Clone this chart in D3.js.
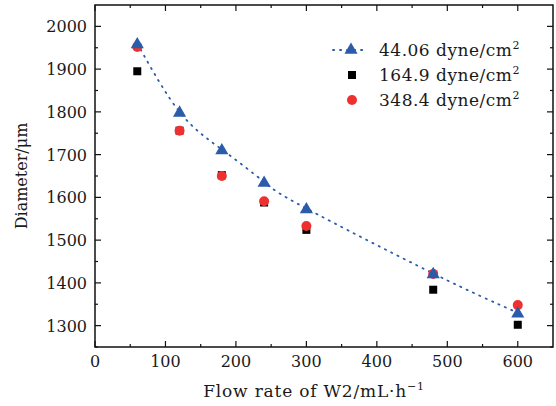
<!DOCTYPE html>
<html>
<head>
<meta charset="utf-8">
<script src="https://cdn.jsdelivr.net/npm/d3@7"></script>
<style>
  body { margin: 0; background: #fff; }
  text { font-family: "DejaVu Serif", serif; fill: #1a1a1a; }
</style>
</head>
<body>
<div id="chart"></div>
<script>
const flowRates = [60, 120, 180, 240, 300, 480, 600];
const d44 = [1960, 1800, 1712, 1636, 1574, 1422, 1330];
const d164 = [1895, 1756, 1652, 1588, 1524, 1384, 1302];
const d348 = [1952, 1756, 1650, 1591, 1533, 1421, 1348];
const xTicks = [0, 100, 200, 300, 400, 500, 600];
const yTicks = [1300, 1400, 1500, 1600, 1700, 1800, 1900, 2000];

const W = 556, H = 406;
const m = { left: 95, right: 3, top: 5, bottom: 59 };
const BLUE = "#2a5caa", RED = "#ee3030";

const svg = d3.select("#chart").append("svg")
	.attr("width", W).attr("height", H);

const x = d3.scaleLinear().domain([0, 650]).range([m.left, W - m.right]);
const y = d3.scaleLinear().domain([1250, 2050]).range([H - m.bottom, m.top]);

// ticks on all four sides, pointing inward
const minorX = d3.range(50, 650, 100);
const minorY = d3.range(1250, 2050, 100);
function ticks(axis, scale, major, minor) {
	const g = svg.append("g");
	const tk = (v, len) => {
		const p = scale(v);
		if (axis === "x") {
			g.append("line").attr("x1", p).attr("x2", p).attr("y1", y.range()[0]).attr("y2", y.range()[0] - len);
			g.append("line").attr("x1", p).attr("x2", p).attr("y1", y.range()[1]).attr("y2", y.range()[1] + len);
		} else {
			g.append("line").attr("y1", p).attr("y2", p).attr("x1", x.range()[0]).attr("x2", x.range()[0] + len);
			g.append("line").attr("y1", p).attr("y2", p).attr("x1", x.range()[1]).attr("x2", x.range()[1] - len);
		}
	};
	major.forEach((v) => tk(v, 6));
	minor.forEach((v) => tk(v, 3));
	g.selectAll("line").attr("stroke", "#111").attr("stroke-width", 1.2);
}
ticks("x", x, xTicks, minorX);
ticks("y", y, yTicks, minorY);

svg.append("rect")
	.attr("x", x.range()[0]).attr("y", y.range()[1])
	.attr("width", x.range()[1] - x.range()[0])
	.attr("height", y.range()[0] - y.range()[1])
	.attr("fill", "none").attr("stroke", "#111").attr("stroke-width", 1.5);

svg.append("g").selectAll("text").data(xTicks).join("text")
	.attr("x", (d) => x(d)).attr("y", H - m.bottom + 20)
	.attr("text-anchor", "middle").attr("font-size", 16)
	.text((d) => d);

svg.append("g").selectAll("text").data(yTicks).join("text")
	.attr("x", m.left - 8).attr("y", (d) => y(d) + 6)
	.attr("text-anchor", "end").attr("font-size", 16)
	.text((d) => d);

// axis titles
const xt = svg.append("text")
	.attr("x", 314).attr("y", 397)
	.attr("text-anchor", "middle").attr("font-size", 17)
	.attr("letter-spacing", 0.8);
xt.append("tspan").text("Flow rate of W2/mL·h");
xt.append("tspan").attr("dy", -7).attr("font-size", 11).text("−1");

svg.append("text")
	.attr("transform", `translate(27,${(y.range()[0] + y.range()[1]) / 2}) rotate(-90)`)
	.attr("text-anchor", "middle").attr("font-size", 16)
	.text("Diameter/μm");

const pts = (vals) => flowRates.map((f, i) => [f, vals[i]]);
const tri = d3.symbol().type(d3.symbolTriangle).size(75);

// dotted trend through the 44.06 series
svg.append("path")
	.datum(pts(d44))
	.attr("d", d3.line().x((d) => x(d[0])).y((d) => y(d[1])).curve(d3.curveNatural))
	.attr("fill", "none").attr("stroke", BLUE).attr("stroke-width", 1.8)
	.attr("stroke-dasharray", "1.2 5.8").attr("stroke-linecap", "round");

svg.append("g").selectAll("rect").data(pts(d164)).join("rect")
	.attr("x", (d) => x(d[0]) - 4).attr("y", (d) => y(d[1]) - 4)
	.attr("width", 8).attr("height", 8).attr("fill", "#000");

svg.append("g").selectAll("circle").data(pts(d348)).join("circle")
	.attr("cx", (d) => x(d[0])).attr("cy", (d) => y(d[1]))
	.attr("r", 5).attr("fill", RED);

svg.append("g").selectAll("path").data(pts(d44)).join("path")
	.attr("transform", (d) => `translate(${x(d[0])},${y(d[1]) + 1})`)
	.attr("d", tri).attr("fill", BLUE);

// legend
const legend = [
	{ label: "44.06 dyne/cm", kind: "tri" },
	{ label: "164.9 dyne/cm", kind: "sq" },
	{ label: "348.4 dyne/cm", kind: "circ" },
];
const lg = svg.append("g");
legend.forEach((d, i) => {
	const cy = 50 + i * 25;
	if (d.kind === "tri") {
		lg.append("line").attr("x1", 333).attr("x2", 367).attr("y1", cy).attr("y2", cy)
			.attr("stroke", BLUE).attr("stroke-width", 1.8)
			.attr("stroke-dasharray", "1.2 5.8").attr("stroke-linecap", "round");
		lg.append("path").attr("transform", `translate(351,${cy})`).attr("d", tri).attr("fill", BLUE);
	} else if (d.kind === "sq") {
		lg.append("rect").attr("x", 348).attr("y", cy - 4).attr("width", 8).attr("height", 8).attr("fill", "#000");
	} else {
		lg.append("circle").attr("cx", 352).attr("cy", cy).attr("r", 5).attr("fill", RED);
	}
	const t = lg.append("text").attr("x", 379).attr("y", cy + 6)
		.attr("font-size", 17).attr("letter-spacing", 0.5);
	t.append("tspan").text(d.label);
	t.append("tspan").attr("dy", -7).attr("font-size", 11).text("2");
});
</script>
</body>
</html>
